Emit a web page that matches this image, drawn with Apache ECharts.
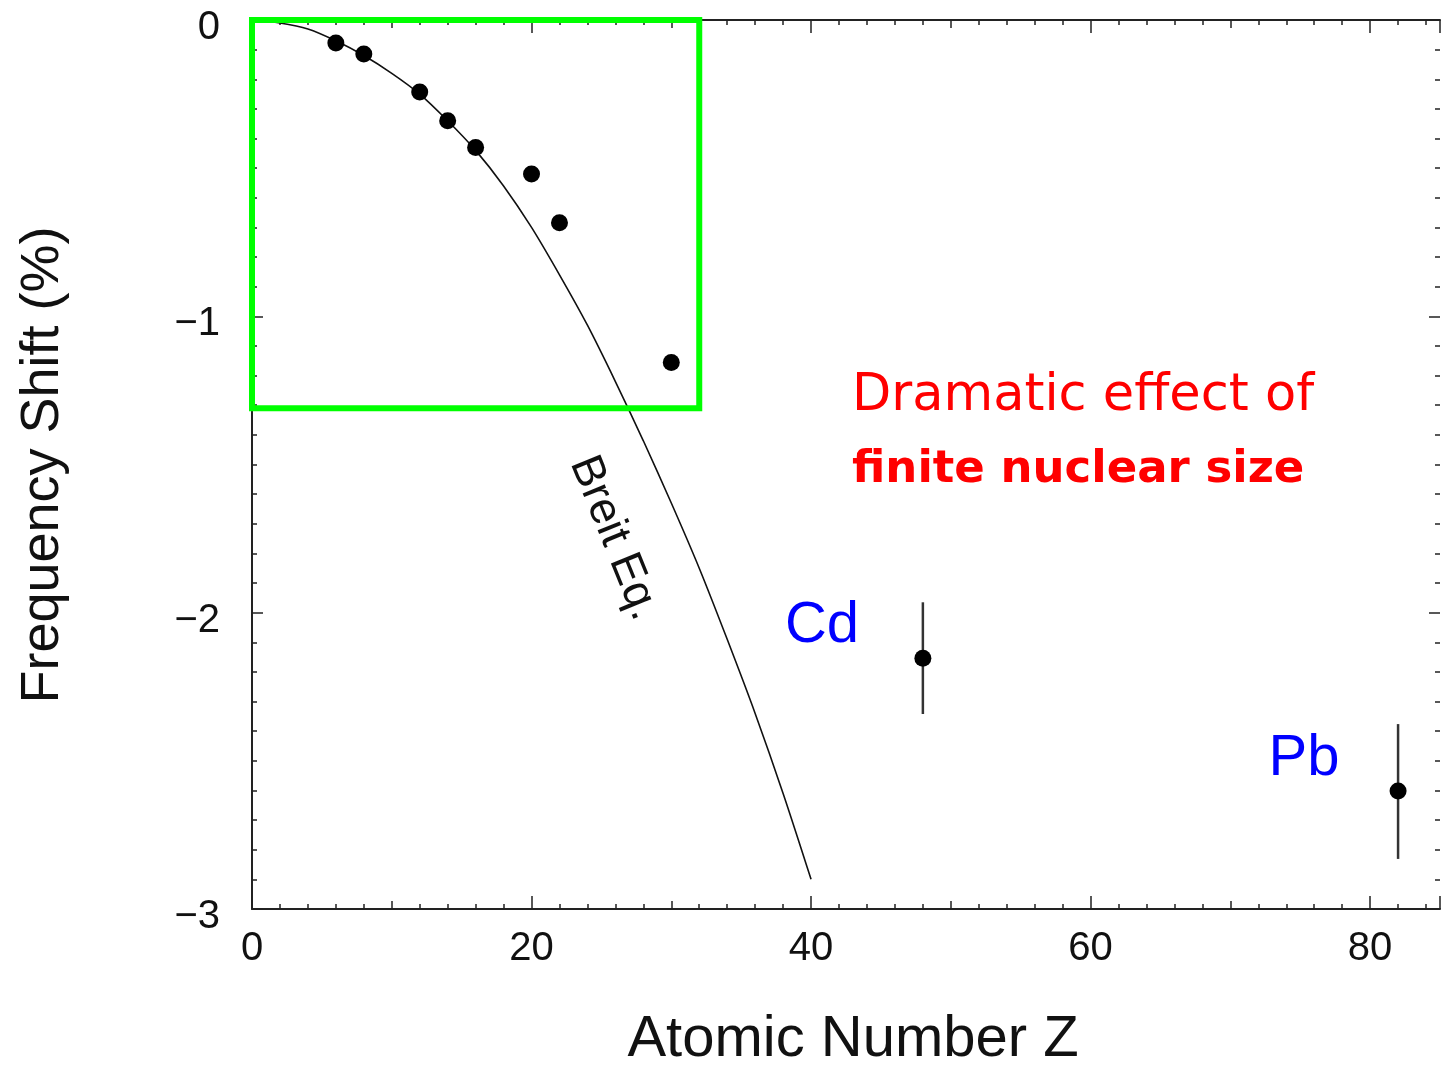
<!DOCTYPE html>
<html>
<head>
<meta charset="utf-8">
<script src="https://cdn.jsdelivr.net/npm/echarts@6/dist/echarts.min.js"></script>
<style>
html,body{margin:0;padding:0;background:#fff;overflow:hidden;}
#chart{width:1443px;height:1068px;}
</style>
</head>
<body>
<div id="chart"></div>
<script>
// Breit equation curve
const breitZ = [0, 2, 4, 6, 8, 10, 12, 14, 16, 18, 20, 22, 24, 26, 28, 30, 32, 34, 36, 38, 40];
const breitShift = [0, -0.01, -0.03, -0.07, -0.12, -0.18, -0.25, -0.34, -0.44, -0.56, -0.70, -0.86, -1.03, -1.22, -1.42, -1.63, -1.85, -2.09, -2.34, -2.61, -2.90];
// Measured points
const measZ = [6, 8, 12, 14, 16, 20, 22, 30, 48, 82];
const measShift = [-0.078, -0.115, -0.243, -0.34, -0.43, -0.52, -0.684, -1.156, -2.154, -2.602];
// Error bars (only Cd and Pb)
const errZ = [48, 82];
const errLow = [-2.342, -2.831];
const errHigh = [-1.965, -2.376];
// Highlight box
const boxZ = [0, 32];
const boxShift = [0, -1.31];
// Axis ticks
const xTicks = [0, 20, 40, 60, 80];
const yTicks = [0, -1, -2, -3];

const chart = echarts.init(document.getElementById('chart'));
const axisColor = '#222';
const labelFont = 'Liberation Sans, Arial, Helvetica, sans-serif';

function xAxisDef(pos, interval, len, showLine, showLabel, minor) {
  return {
    type: 'value', position: pos, min: 0, max: 85.0, interval: interval,
    axisLine: {show: showLine, onZero: false, lineStyle: {color: axisColor, width: 2}},
    axisTick: {show: true, inside: true, length: len, lineStyle: {color: axisColor, width: 1.5}},
    minorTick: {show: minor, splitNumber: 5, length: 5, lineStyle: {color: axisColor, width: 1.5}},
    splitLine: {show: false},
    axisLabel: {show: showLabel, fontSize: 40, color: '#111', fontFamily: labelFont, margin: 20,
      formatter: v => xTicks.indexOf(v) >= 0 ? String(v) : ''}
  };
}
function yAxisDef(pos, interval, len, showLine, showLabel, minor) {
  return {
    type: 'value', position: pos, min: -3, max: 0, interval: interval,
    axisLine: {show: showLine, onZero: false, lineStyle: {color: axisColor, width: 2}},
    axisTick: {show: true, inside: true, length: len, lineStyle: {color: axisColor, width: 1.5}},
    minorTick: {show: minor, splitNumber: 10, length: 5, lineStyle: {color: axisColor, width: 1.5}},
    splitLine: {show: false},
    axisLabel: {show: showLabel, fontSize: 40, color: '#111', fontFamily: labelFont, margin: 32,
      verticalAlign: 'top', lineHeight: 16,
      formatter: v => yTicks.indexOf(v) >= 0 ? String(v).replace('-', '\u2212') : ''}
  };
}

const option = {
  animation: false,
  backgroundColor: '#fff',
  grid: {left: 252, top: 20, right: 0, bottom: 159},
  xAxis: [
    xAxisDef('bottom', 10, 8, true, true, true),
    xAxisDef('bottom', 20, 13, false, false, false),
    xAxisDef('top', 10, 8, true, false, true),
    xAxisDef('top', 20, 13, false, false, false)
  ],
  yAxis: [
    yAxisDef('left', 1, 11, true, true, true),
    yAxisDef('right', 1, 11, false, false, true)
  ],
  series: [
    {
      type: 'line', name: 'Breit', xAxisIndex: 0, yAxisIndex: 0,
      data: breitZ.map((z, i) => [z, breitShift[i]]),
      smooth: 0.3, showSymbol: false, symbol: 'none',
      lineStyle: {color: '#111', width: 1.6}, z: 3,
      markArea: {
        silent: true,
        itemStyle: {color: 'rgba(0,0,0,0)', borderColor: '#00ff00', borderWidth: 6},
        data: [[{coord: [boxZ[0], boxShift[0]]}, {coord: [boxZ[1], boxShift[1]]}]],
        z: 10
      }
    },
    {
      type: 'custom', name: 'err', xAxisIndex: 0, yAxisIndex: 0,
      data: errZ.map((z, i) => [z, errLow[i], errHigh[i]]),
      renderItem: function (params, api) {
        const p1 = api.coord([api.value(0), api.value(1)]);
        const p2 = api.coord([api.value(0), api.value(2)]);
        return {type: 'line', shape: {x1: p1[0], y1: p1[1], x2: p2[0], y2: p2[1]},
          style: {stroke: '#333', lineWidth: 2.5}};
      },
      z: 4
    },
    {
      type: 'scatter', name: 'measured', xAxisIndex: 0, yAxisIndex: 0,
      data: measZ.map((z, i) => [z, measShift[i]]),
      symbolSize: 17, itemStyle: {color: '#000', opacity: 1}, z: 5
    }
  ],
  graphic: [
    {type: 'text', x: 43, y: 465, rotation: Math.PI / 2,
      style: {text: 'Frequency Shift (%)', fontSize: 54, fontFamily: labelFont, fill: '#111',
        textAlign: 'center', textVerticalAlign: 'middle'}},
    {type: 'text', x: 853, y: 1040,
      style: {text: 'Atomic Number Z', fontSize: 58, fontFamily: labelFont, fill: '#111',
        textAlign: 'center', textVerticalAlign: 'middle'}},
    {type: 'text', x: 614, y: 538, rotation: -68 * Math.PI / 180,
      style: {text: 'Breit Eq.', fontSize: 45, fontFamily: labelFont, fill: '#111',
        textAlign: 'center', textVerticalAlign: 'middle'}},
    {type: 'text', x: 822, y: 626,
      style: {text: 'Cd', fontSize: 58, fontFamily: labelFont, fill: '#0000ff',
        textAlign: 'center', textVerticalAlign: 'middle'}},
    {type: 'text', x: 1304, y: 759,
      style: {text: 'Pb', fontSize: 58, fontFamily: labelFont, fill: '#0000ff',
        textAlign: 'center', textVerticalAlign: 'middle'}},
    {type: 'text', x: 852, y: 397,
      style: {text: 'Dramatic effect of', fontSize: 51, fontFamily: '"Comic Sans MS", "DejaVu Sans", sans-serif', fill: '#ff0000',
        textAlign: 'left', textVerticalAlign: 'middle'}},
    {type: 'text', x: 852, y: 470,
      style: {text: 'finite nuclear size', fontSize: 45, fontWeight: 'bold', fontFamily: '"Comic Sans MS", "DejaVu Sans", sans-serif', fill: '#ff0000',
        textAlign: 'left', textVerticalAlign: 'middle'}}
  ]
};
chart.setOption(option);
</script>
</body>
</html>
